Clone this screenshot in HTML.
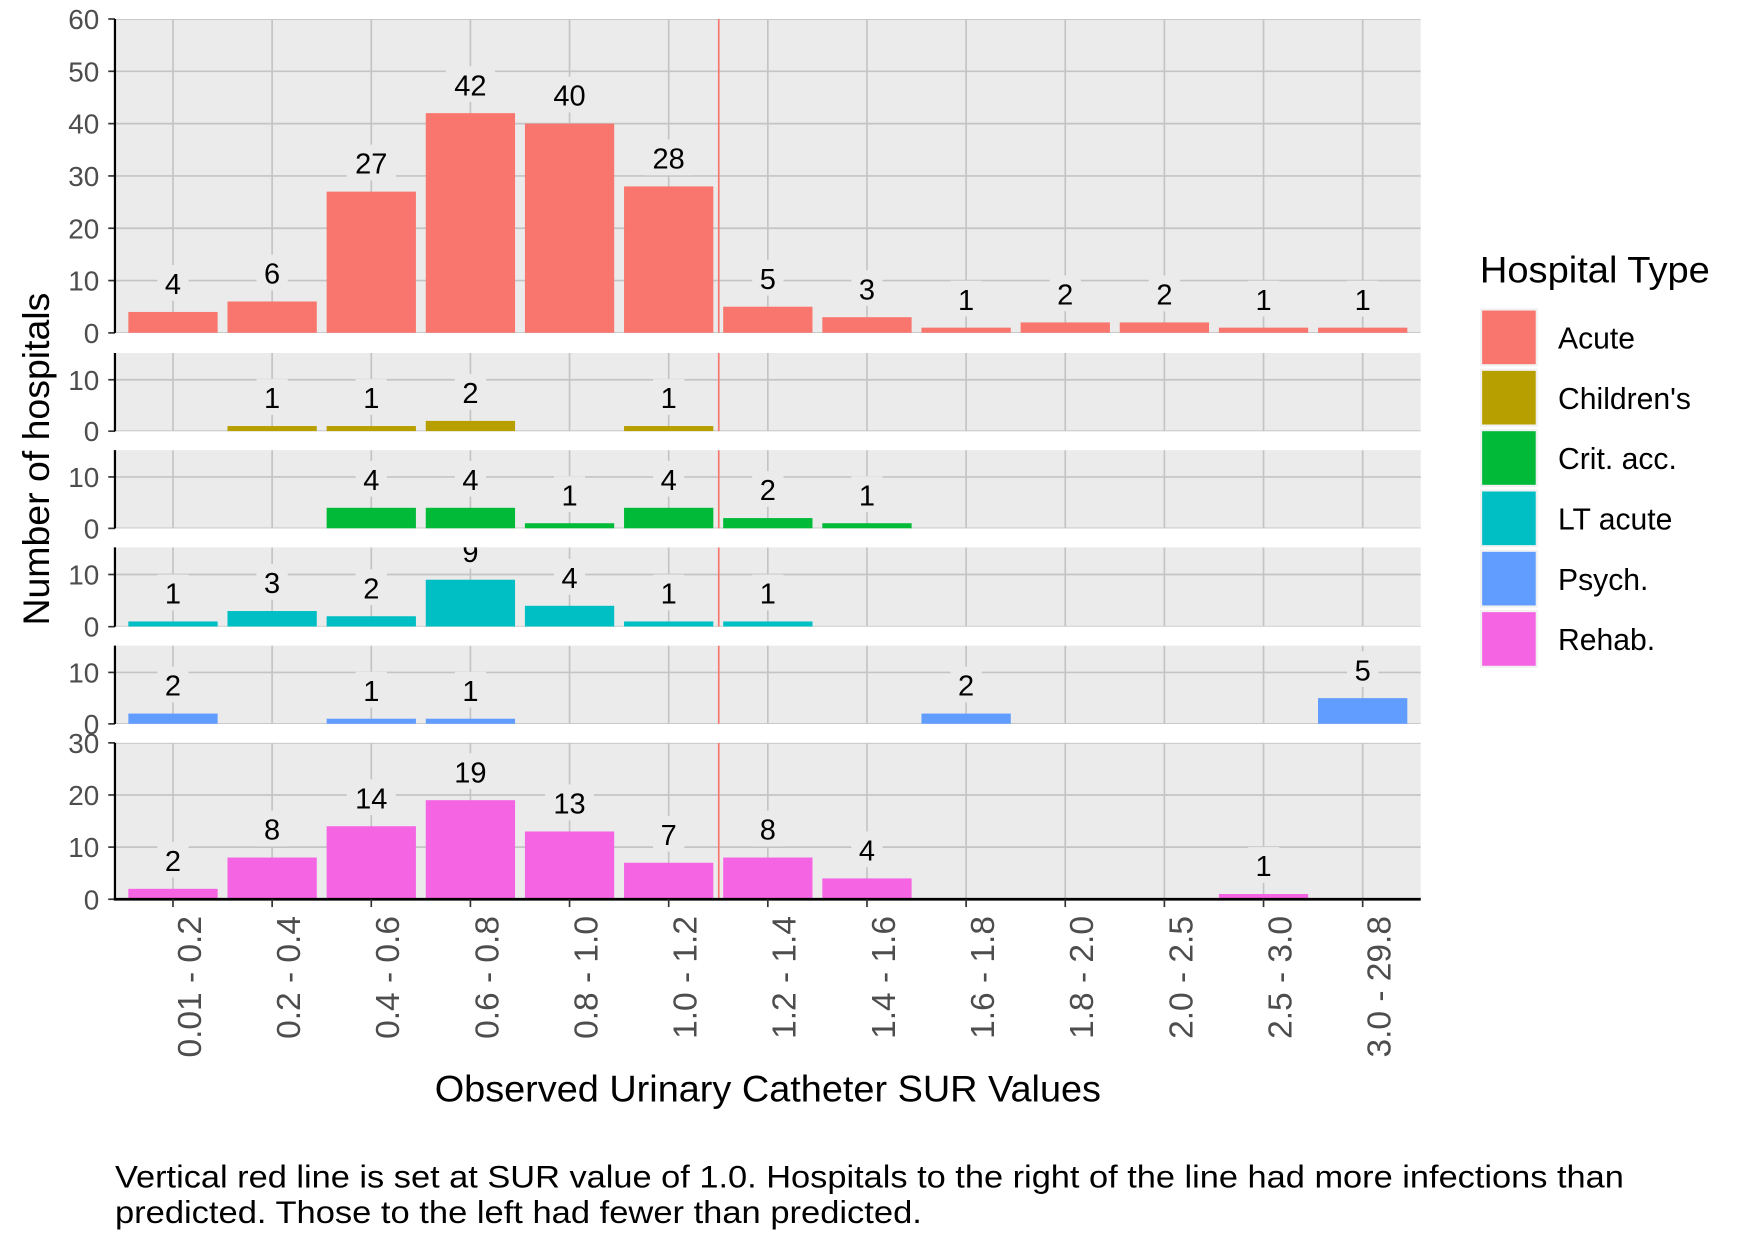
<!DOCTYPE html>
<html><head><style>html,body{margin:0;padding:0;background:#fff}svg{display:block}</style></head>
<body>
<svg id="s" width="1750" height="1250" viewBox="0 0 1568 1119" preserveAspectRatio="none" xmlns="http://www.w3.org/2000/svg" font-family="Liberation Sans, sans-serif"></svg>
<script>
const s=document.getElementById('s');let h='';
const cx=i=>155+i*88.83;
const cats=["0.01 - 0.2","0.2 - 0.4","0.4 - 0.6","0.6 - 0.8","0.8 - 1.0","1.0 - 1.2","1.2 - 1.4","1.4 - 1.6","1.6 - 1.8","1.8 - 2.0","2.0 - 2.5","2.5 - 3.0","3.0 - 29.8"];
const panels=[
{t:17,b:298,max:60,ticks:[0,10,20,30,40,50,60],c:"#F8766D",d:[4,6,27,42,40,28,5,3,1,2,2,1,1]},
{t:316,b:386,max:15.2,ticks:[0,10],c:"#B79F00",d:{1:1,2:1,3:2,5:1}},
{t:403,b:473,max:15.2,ticks:[0,10],c:"#00BA38",d:{2:4,3:4,4:1,5:4,6:2,7:1}},
{t:490,b:561,max:15.2,ticks:[0,10],c:"#00BFC4",d:{0:1,1:3,2:2,3:9,4:4,5:1,6:1}},
{t:578,b:648,max:15.2,ticks:[0,10],c:"#619CFF",d:{0:2,2:1,3:1,8:2,12:5}},
{t:665,b:805,max:30,ticks:[0,10,20,30],c:"#F564E3",d:{0:2,1:8,2:14,3:19,4:13,5:7,6:8,7:4,11:1}}];
panels.forEach((p,k)=>{
 const sc=(p.b-p.t)/p.max;const y=v=>p.b-v*sc;
 h+=`<clipPath id="c${k}"><rect x="103" y="${p.t}" width="1170" height="${p.b-p.t}"/></clipPath>`;
 h+=`<rect x="103" y="${p.t}" width="1170" height="${p.b-p.t}" fill="#EBEBEB"/>`;
 h+=`<g clip-path="url(#c${k})">`;
 p.ticks.forEach(v=>h+=`<line x1="103" x2="1273" y1="${y(v)}" y2="${y(v)}" stroke="#c4c4c4" stroke-width="1.5"/>`);
 for(let i=0;i<13;i++)h+=`<line x1="${cx(i)}" x2="${cx(i)}" y1="${p.t}" y2="${p.b}" stroke="#c4c4c4" stroke-width="1.5"/>`;
 const ent=Array.isArray(p.d)?p.d.map((v,i)=>[i,v]):Object.entries(p.d).map(([i,v])=>[+i,v]);
 ent.forEach(([i,v])=>{h+=`<rect x="${cx(i)-40}" y="${y(v)}" width="80" height="${v*sc}" fill="${p.c}"/>`;});
 h+=`<line x1="644" x2="644" y1="${p.t}" y2="${p.b}" stroke="#F8766D" stroke-width="1.5"/>`;
 ent.forEach(([i,v])=>{const ly=y(v)-26;const w=String(v).length*16+12;
  h+=`<rect x="${cx(i)-w/2}" y="${ly-16}" width="${w}" height="32" fill="#EBEBEB"/>`;
  h+=`<text x="${cx(i)}" y="${ly+10}" font-size="26" text-anchor="middle" fill="#000">${v}</text>`;});
 h+=`</g>`;
 p.ticks.forEach(v=>{h+=`<text x="89" y="${y(v)+9}" font-size="25" text-anchor="end" fill="#4D4D4D">${v}</text><line x1="97" x2="103" y1="${y(v)}" y2="${y(v)}" stroke="#333" stroke-width="1.5"/>`;});
 h+=`<line x1="103" x2="103" y1="${p.t}" y2="${p.b}" stroke="#000" stroke-width="2"/>`;
});
h+=`<line x1="102" x2="1273" y1="805" y2="805" stroke="#000" stroke-width="2.5"/>`;
cats.forEach((c,i)=>{h+=`<line x1="${cx(i)}" x2="${cx(i)}" y1="805" y2="812" stroke="#333" stroke-width="1.5"/><text transform="translate(${cx(i)+25},820) rotate(-90)" font-size="30" text-anchor="end" fill="#4D4D4D">${c}</text>`;});
h+=`<text x="688" y="986" font-size="33" text-anchor="middle" textLength="597" lengthAdjust="spacingAndGlyphs">Observed Urinary Catheter SUR Values</text>`;
h+=`<text transform="translate(44,411) rotate(-90)" font-size="33" text-anchor="middle" textLength="298" lengthAdjust="spacingAndGlyphs">Number of hospitals</text>`;
h+=`<text x="1326" y="253" font-size="33" textLength="206" lengthAdjust="spacingAndGlyphs">Hospital Type</text>`;
["Acute","Children's","Crit. acc.","LT acute","Psych.","Rehab."].forEach((n,i)=>{const c=panels[i].c;const yy=276+i*54;
 h+=`<rect x="1326" y="${yy}" width="52" height="52" fill="#F2F2F2"/><rect x="1328" y="${yy+2}" width="48" height="48" fill="${c}"/><text x="1396" y="${yy+36}" font-size="27">${n}</text>`;});
h+=`<text x="103" y="1063" font-size="28" textLength="1352" lengthAdjust="spacingAndGlyphs">Vertical red line is set at SUR value of 1.0.  Hospitals to the right of the line had more infections than</text>`;
h+=`<text x="103" y="1095" font-size="28" textLength="723" lengthAdjust="spacingAndGlyphs">predicted.  Those to the left had fewer than predicted.</text>`;
s.innerHTML=h;
</script>
</body></html>
